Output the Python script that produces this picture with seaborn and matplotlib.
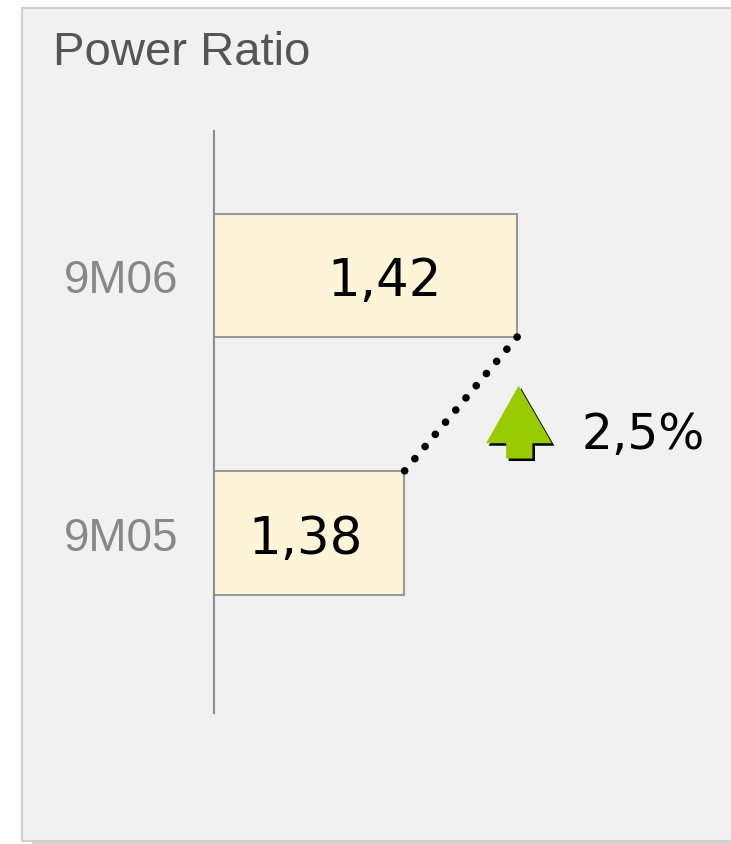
import matplotlib
matplotlib.use("Agg")
import matplotlib.pyplot as plt
from matplotlib.patches import Rectangle, Polygon
from matplotlib.transforms import IdentityTransform
import seaborn as sns
import pandas as pd

# ---- data ----
categories = ["9M06", "9M05"]
values = [1.42, 1.38]
value_labels = ["1,42", "1,38"]
change_label = "2,5%"
title = "Power Ratio"

# ---- layout ----
W, H = 731, 845
sns.set_theme(style="white")
plt.rcParams['font.family'] = ['DejaVu Sans']

fig = plt.figure(figsize=(W / 100, H / 100), dpi=100, facecolor='white')


def fx(x):
    return x / W


def fy(y):
    return 1 - y / H


# panel background + border + bottom shadow
fig.patches.append(Rectangle((fx(22), fy(842)), fx(770) - fx(22), fy(9) - fy(842),
                             transform=fig.transFigure, facecolor='#f1f1f1',
                             edgecolor='#d0d0d0', linewidth=1.5, zorder=-2))
fig.patches.append(Rectangle((fx(32), fy(845)), 1.0, fy(842.5) - fy(845),
                             transform=fig.transFigure, facecolor='#d4d4d4',
                             edgecolor='none', zorder=-2))

ax = fig.add_axes([fx(214), fy(714), 1 - fx(214), fy(132) - fy(714)])
ax.set_facecolor('none')
ax.set_zorder(1)

bar_w = 0.478
df = pd.DataFrame({"period": categories, "ratio": values})
sns.barplot(data=df, x="ratio", y="period", orient='h', color='#fef5d9',
            saturation=1, edgecolor='#999999', linewidth=1.5, width=bar_w,
            ax=ax, zorder=2)

base = 1.3127
ax.set_xlim(base, 1.4957)
ax.set_ylim(1.699, -0.561)

for s in ['top', 'right', 'bottom']:
    ax.spines[s].set_visible(False)
ax.spines['left'].set_color('#8c8c8c')
ax.spines['left'].set_linewidth(1.5)
ax.spines['left'].set_zorder(5)
ax.set_xticks([])
ax.set_xlabel('')
ax.set_ylabel('')
ax.tick_params(axis='y', length=0, pad=26, labelsize=33, labelcolor='#888888',
               labelfontfamily='Liberation Sans')

# value labels inside bars
label_frac = [0.563, 0.479]
for i, (v, lab) in enumerate(zip(values, value_labels)):
    xpos = base + (v - base) * label_frac[i]
    ax.annotate(lab, xy=(xpos, i), xytext=(0, -14.4), textcoords='offset points',
                ha='center', va='baseline', fontsize=37, color='black', zorder=4)

# dotted connector between bar ends
ax.plot([values[0], values[1]], [0 + bar_w / 2, 1 - bar_w / 2], color='black',
        linewidth=5.5, linestyle=(0, (0.01, 2.07)), dash_capstyle='round', zorder=4)

# arrow (green, with black shadow), anchored between bars at the 9M06 bar end
ax_x, ax_y = ax.transData.transform((values[0], 0.5))
shape = [(1.5, -18.5), (34.7, 39), (15.3, 39), (15.3, 54.3), (-11, 54.3),
         (-11, 39), (-31, 39)]


def to_disp(pts, ox=0.0, oy=0.0):
    return [(ax_x + dx + ox, ax_y - dy - oy) for dx, dy in pts]


fig.patches.append(Polygon(to_disp(shape, 2.5, 2.5), closed=True, facecolor='black',
                           edgecolor='none', transform=IdentityTransform(), zorder=5))
fig.patches.append(Polygon(to_disp(shape), closed=True, facecolor='#99cc00',
                           edgecolor='none', transform=IdentityTransform(), zorder=6))

ax.annotate(change_label, xy=(values[0], 0.5), xytext=(64 * 0.72, -44 * 0.72),
            textcoords='offset points', ha='left', va='baseline', fontsize=35,
            color='black', annotation_clip=False)

# title
fig.text(fx(53), fy(65), title, fontsize=34, family='Liberation Sans',
         color='#555555', ha='left', va='baseline')

fig.savefig('out.png', dpi=100, facecolor='white')
